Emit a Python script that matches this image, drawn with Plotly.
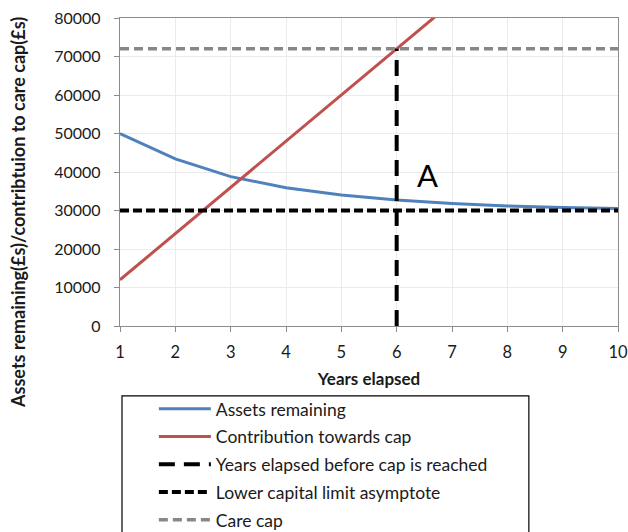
import plotly.graph_objects as go

# values
years = [1, 2, 3, 4, 5, 6, 7, 8, 9, 10]
assets_remaining = [50000, 43400, 38800, 35900, 34000, 32700, 31800, 31200, 30800, 30500]
contribution = [12000, 24000, 36000, 48000, 60000, 72000, 84000, 96000, 108000, 120000]

cap_year = 6
care_cap = 72000
lower_limit = 30000

FONT = "Lato, 'Open Sans', sans-serif"
TXT = "#1a1a1a"

fig = go.Figure()

fig.add_trace(go.Scatter(
    x=years, y=assets_remaining, mode='lines', name='Assets remaining',
    line=dict(color='#4F81BD', width=3), legendgroup='a'))
fig.add_trace(go.Scatter(
    x=years, y=contribution, mode='lines', name='Contribution towards cap',
    line=dict(color='#C0504D', width=3), legendgroup='b'))
fig.add_trace(go.Scatter(
    x=[cap_year, cap_year], y=[0, care_cap], mode='lines',
    name='Years elapsed before cap is reached',
    line=dict(color='black', width=4, dash='16px,9px'), legendgroup='c'))
fig.add_trace(go.Scatter(
    x=[years[0], years[-1]], y=[lower_limit, lower_limit], mode='lines',
    name='Lower capital limit asymptote',
    line=dict(color='black', width=4, dash='9px,4px'), legendgroup='d'))
fig.add_trace(go.Scatter(
    x=[years[0], years[-1]], y=[care_cap, care_cap], mode='lines',
    name='Care cap',
    line=dict(color='#878787', width=3.5, dash='9px,5px'), legendgroup='e'))

fig.update_xaxes(
    range=[1, 10], dtick=1, showgrid=True, gridcolor='#ebebeb',
    showline=True, linecolor='#8c8c8c', linewidth=1.3, mirror=True,
    ticks='outside', ticklen=5, tickcolor='#8c8c8c', ticklabelstandoff=6,
    ticklabeloverflow='allow',
    tickfont=dict(family=FONT, size=16.5, color=TXT),
    title=dict(text='<b>Years elapsed</b>', font=dict(family=FONT, size=17, color=TXT),
               standoff=12),
    zeroline=False, automargin=False)
fig.update_yaxes(
    range=[0, 80000], dtick=10000, tickformat='d', showgrid=True, gridcolor='#ebebeb',
    showline=True, linecolor='#8c8c8c', linewidth=1.3, mirror=True,
    ticks='outside', ticklen=5, tickcolor='#8c8c8c', ticklabelstandoff=10,
    ticklabeloverflow='allow',
    tickfont=dict(family=FONT, size=16, color=TXT),
    zeroline=False, automargin=False)

fig.add_annotation(
    x=-0.205, y=0.37, xref='paper', yref='paper', showarrow=False,
    xanchor='center', yanchor='middle',
    text='<b>Assets remaining(£s)/contribtuion to care cap(£s)</b>', textangle=-90,
    font=dict(family=FONT, size=18, color=TXT))
fig.add_annotation(
    x=6.55, y=39200, showarrow=False, text='A',
    font=dict(family=FONT, size=31, color='black'))

# legend frame running off the bottom of the page
fig.add_shape(type='rect', xref='paper', yref='paper',
              x0=0.004, x1=0.821, y0=-0.75, y1=-0.227,
              line=dict(color='black', width=1.2), fillcolor='rgba(0,0,0,0)')

fig.update_layout(
    width=628, height=532,
    margin=dict(l=120, r=10, t=18, b=206, autoexpand=False),
    paper_bgcolor='white', plot_bgcolor='white',
    font=dict(family=FONT, size=17, color=TXT),
    showlegend=True,
    legend=dict(
        x=0.068, y=-0.211, xanchor='left', yanchor='top',
        traceorder='grouped', tracegroupgap=2, itemwidth=52,
        font=dict(family=FONT, size=17.5, color=TXT),
        bgcolor='rgba(0,0,0,0)', borderwidth=0))

# drop the browser's default body margin so the figure fills the window exactly
fig.write_html("out.html", config={'displayModeBar': False}, post_script=(
    "document.body.style.margin='0';"
    "document.documentElement.style.overflow='hidden';"))
